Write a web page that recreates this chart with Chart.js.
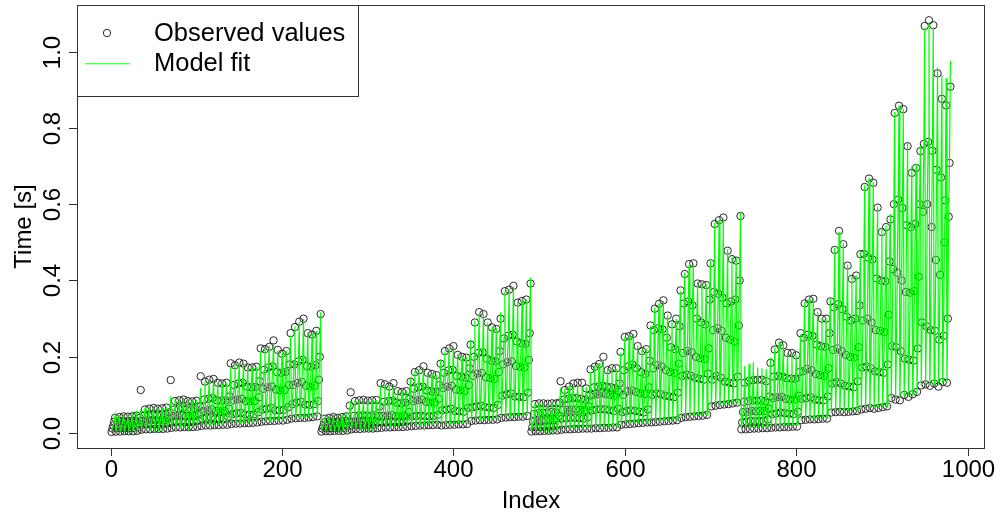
<!DOCTYPE html>
<html>
<head>
<meta charset="utf-8">
<script src="https://cdn.jsdelivr.net/npm/chart.js@4.4.0/dist/chart.umd.min.js"></script>
<style>
  html, body { margin: 0; padding: 0; background: #ffffff; }
  #wrap { width: 1003px; height: 515px; }
</style>
</head>
<body>
<div id="wrap"><canvas id="chart" width="1003" height="515"></canvas></div>
<script>
// Axis ticks
const xTicks = [0, 200, 400, 600, 800, 1000];
const yTicks = [0, 0.2, 0.4, 0.6, 0.8, 1.0];
const yTickLabels = ["0.0", "0.2", "0.4", "0.6", "0.8", "1.0"];

// Measured run times in milliseconds.
// Each block holds 5 levels (rows); each row has 49 settings (7 groups of 7).
// Points are plotted setting by setting, cycling through the 5 levels.
const observedBlock1 = [
  [3,4,4,5,5,5,6, 9,10,10,11,11,11,12, 14,15,15,16,16,16,17, 19,20,20,21,21,22,22, 24,25,25,26,26,27,28, 30,31,32,32,33,33,35, 38,39,40,40,41,42,44],
  [12,13,13,13,13,14,16, 22,23,23,22,22,23,26, 29,30,31,29,29,30,33, 38,40,41,38,38,39,43, 50,52,53,49,48,49,55, 62,64,66,60,60,61,68, 76,80,82,75,74,76,84],
  [20,21,22,21,21,22,26, 32,33,34,33,33,34,38, 44,45,46,44,44,45,50, 58,60,62,58,57,58,64, 86,88,90,84,83,84,94, 116,120,122,114,112,113,126, 126,132,134,124,122,124,140],
  [30,31,32,31,32,33,40, 46,47,48,47,47,48,55, 62,64,65,62,62,63,70, 88,90,92,86,85,86,96, 126,130,132,122,120,121,136, 166,172,175,160,158,160,180, 180,188,192,176,174,178,200],
  [40,42,44,43,44,46,113, 62,64,66,64,65,67,139, 84,86,88,84,83,85,149, 135,140,142,132,130,132,183, 178,185,182,172,172,174,222, 220,226,243,218,208,215,262, 278,292,300,262,258,268,312]
];
const observedBlock2 = [
  [4,5,5,6,6,6,7, 10,11,11,12,12,12,13, 14,15,15,16,16,16,17, 18,19,20,20,21,21,22, 20,21,22,22,23,23,24, 32,33,34,34,35,35,36, 40,41,42,42,43,43,45],
  [12,13,13,13,14,14,18, 20,21,21,21,22,22,28, 28,29,30,29,29,30,34, 44,45,46,44,44,45,48, 60,62,64,58,57,56,66, 68,70,72,68,67,66,74, 98,102,104,96,95,94,106],
  [18,19,20,19,20,21,30, 30,31,32,31,31,32,45, 45,46,47,44,44,45,55, 84,86,88,82,80,80,90, 118,122,124,114,112,110,126, 150,156,158,146,144,142,160, 180,186,188,176,174,172,192],
  [28,30,31,30,31,32,72, 45,46,47,46,46,47,70, 82,84,85,80,78,80,90, 116,120,122,112,110,108,126, 158,164,166,150,148,146,170, 200,210,212,195,190,188,215, 248,255,258,240,236,234,262],
  [38,40,42,40,42,44,107, 84,86,87,85,86,87,131, 128,122,131,110,108,110,135, 160,165,175,158,155,152,182, 215,222,228,205,200,198,232, 290,317,312,290,277,273,300, 372,376,386,342,346,350,392]
];
const observedBlock3 = [
  [4,5,5,6,6,7,7, 9,10,10,11,11,12,12, 12,13,13,14,14,15,15, 22,23,24,25,26,27,28, 28,29,30,31,32,33,34, 40,42,43,44,45,46,48, 70,72,74,75,76,78,80],
  [15,16,16,17,17,18,22, 38,39,40,40,39,38,42, 60,62,63,62,60,58,64, 55,58,60,58,56,54,62, 100,104,102,98,96,94,106, 150,154,150,145,142,140,156, 140,150,145,135,132,130,148],
  [30,31,32,33,34,34,45, 60,61,62,62,61,60,70, 100,102,104,102,100,98,108, 100,110,112,108,104,102,120, 170,178,175,165,160,158,182, 210,215,212,200,196,194,222, 270,275,268,250,245,240,282],
  [50,52,53,54,55,55,80, 88,90,92,92,90,88,98, 120,122,124,122,120,118,130, 165,175,180,170,160,155,190, 270,275,272,250,225,220,280, 340,345,335,300,290,285,350, 370,365,355,340,345,350,400],
  [76,78,78,77,78,78,136, 113,122,130,132,132,117,167, 174,181,200,165,170,170,213, 252,254,260,228,215,220,282, 326,339,348,308,285,300,374, 417,443,445,392,390,388,445, 548,558,565,478,456,452,569]
];
const observedBlock4 = [
  [10,10,11,12,12,13,13, 14,15,15,16,16,17,17, 34,35,36,36,37,38,38, 54,55,56,55,56,57,58, 62,64,66,64,66,68,70, 92,88,86,100,95,102,108, 125,128,124,130,122,134,132],
  [28,30,32,31,32,32,36, 50,52,54,52,51,50,56, 90,92,94,88,86,86,96, 130,134,130,124,122,120,136, 172,175,170,162,160,158,180, 228,225,215,195,192,190,222, 290,280,270,268,245,255,300],
  [55,56,58,57,58,58,64, 92,94,95,90,88,88,98, 162,168,165,155,152,150,170, 218,222,215,205,200,198,225, 295,300,290,270,268,265,310, 430,420,400,370,368,372,410, 580,600,540,454,415,500,567],
  [82,84,86,85,86,84,96, 148,150,148,144,143,142,160, 250,258,255,232,228,226,262, 330,338,325,305,295,300,335, 470,460,455,405,400,398,450, 600,612,590,545,540,548,600, 758,763,740,690,670,610,708],
  [132,137,139,140,140,136,184, 219,237,230,210,210,204,262, 340,350,352,317,300,300,345, 480,530,495,439,404,413,469, 645,667,656,591,527,540,560, 839,858,849,752,682,695,739, 1067,1082,1069,943,876,859,908]
];

// Fitted times from the model, same layout (milliseconds)
const fitBlock1 = [
  [5,5,6,6,6,7,7, 10,10,11,11,11,12,12, 14,15,15,15,16,16,16, 19,20,20,20,21,21,22, 24,25,25,26,26,26,27, 30,31,31,32,32,33,34, 37,38,39,39,40,41,42],
  [13,14,14,13,13,14,17, 22,23,24,22,22,23,27, 29,30,31,29,29,30,34, 39,40,41,38,38,39,44, 50,52,53,49,48,49,57, 62,65,66,61,60,61,70, 77,80,82,75,74,76,86],
  [21,22,23,21,21,22,28, 32,34,35,33,33,34,40, 44,46,47,44,44,45,52, 58,61,62,58,57,58,68, 86,89,90,84,83,84,98, 116,120,122,114,112,113,132, 128,132,135,124,122,124,146],
  [31,32,33,31,31,33,44, 46,48,49,47,47,48,60, 62,64,66,62,61,63,76, 88,91,92,86,85,86,104, 126,130,132,122,120,121,146, 164,170,174,160,158,160,190, 182,188,192,176,174,178,212],
  [46,48,50,46,46,48,62, 66,68,70,66,66,68,96, 88,90,92,86,85,87,118, 136,140,142,132,130,132,170, 180,184,184,174,172,174,214, 222,228,236,216,210,216,256, 280,292,300,264,260,268,316]
];
const fitBlock2 = [
  [6,6,7,7,7,8,8, 11,11,12,12,12,13,13, 15,15,16,16,16,17,17, 19,19,20,20,21,21,22, 22,22,23,23,24,24,25, 32,33,33,34,34,35,36, 40,41,42,42,43,44,45],
  [13,14,14,13,14,14,19, 21,22,22,21,22,22,29, 29,30,31,29,29,30,36, 44,46,47,44,44,45,52, 60,62,63,58,57,56,68, 69,71,72,68,67,66,78, 98,102,104,97,95,94,110],
  [19,20,21,19,20,21,31, 31,32,33,31,31,32,46, 46,47,48,44,44,45,60, 84,87,88,82,80,80,96, 118,122,124,114,112,111,132, 150,156,158,146,144,142,168, 180,186,188,176,174,172,200],
  [30,31,32,30,31,32,60, 46,47,48,46,46,47,72, 82,84,86,80,78,80,98, 116,120,122,112,110,108,134, 158,163,166,150,148,146,180, 202,210,212,195,190,188,226, 250,256,260,240,236,234,274],
  [42,44,45,42,43,45,84, 86,88,89,85,86,87,124, 126,125,128,112,110,111,144, 162,168,172,158,155,153,192, 214,222,226,206,202,200,244, 294,312,312,290,278,275,316, 370,378,384,344,346,350,408]
];
const fitBlock3 = [
  [6,6,7,7,7,8,8, 10,10,11,11,12,12,13, 13,13,14,14,15,15,16, 22,23,24,25,25,26,27, 29,30,30,31,32,33,34, 41,42,43,44,45,46,47, 68,70,72,73,74,76,78],
  [16,17,17,17,17,18,24, 38,39,40,39,38,38,46, 60,62,63,60,59,58,68, 56,58,60,57,56,55,66, 100,103,102,97,96,95,112, 148,152,150,144,142,140,162, 142,148,146,136,133,131,154],
  [31,32,33,32,33,34,48, 60,62,63,61,60,60,74, 100,102,104,100,99,98,114, 102,110,112,106,104,102,126, 170,176,175,164,160,158,190, 210,214,212,200,196,194,232, 268,274,270,250,245,242,292],
  [51,53,54,53,54,55,82, 88,91,92,90,89,88,104, 120,123,124,120,119,118,138, 166,174,178,166,160,156,198, 268,274,272,248,228,222,292, 338,344,338,302,292,288,364, 372,368,358,342,344,350,412],
  [78,80,81,78,79,80,118, 116,124,128,124,122,120,160, 178,184,190,170,168,168,210, 252,256,260,230,220,222,280, 330,340,346,310,292,300,372, 420,440,444,396,392,390,452, 552,560,562,482,462,458,578]
];
const fitBlock4 = [
  [12,12,13,13,14,14,15, 17,17,18,18,19,19,20, 34,35,36,36,37,38,39, 54,55,56,56,57,58,59, 64,65,66,66,67,68,69, 92,92,93,96,96,98,102, 124,126,126,128,126,130,132],
  [32,34,35,33,34,34,40, 52,54,56,52,51,50,60, 90,93,95,88,86,86,100, 130,135,132,124,122,120,140, 172,176,172,162,160,158,186, 226,226,218,198,194,192,228, 288,282,272,266,250,256,306],
  [60,62,64,60,60,61,72, 94,96,98,91,89,88,104, 164,168,168,156,152,150,178, 220,224,218,206,200,198,232, 298,302,292,272,268,266,318, 428,422,402,372,368,372,420, 582,598,545,468,430,500,578],
  [90,92,94,88,88,87,104, 150,152,150,144,143,142,166, 252,258,256,234,228,226,270, 332,338,328,306,296,300,344, 468,462,455,408,400,400,462, 602,612,592,548,540,548,615, 760,765,740,695,675,620,720],
  [176,182,186,172,170,168,198, 224,240,234,210,208,204,258, 344,352,354,318,302,300,352, 486,528,498,442,410,414,476, 650,668,658,594,536,544,574, 842,858,850,760,700,706,752, 1062,1076,1064,958,938,930,975]
];

const observedBlocks = [observedBlock1, observedBlock2, observedBlock3, observedBlock4];
const fitBlocks = [fitBlock1, fitBlock2, fitBlock3, fitBlock4];

// Flatten into run order: block -> setting -> level, index starting at 1
const observedPoints = [];
const fitPoints = [];
let runIndex = 1;
observedBlocks.forEach((block, b) => {
  const fit = fitBlocks[b];
  const settings = block[0].length;
  for (let j = 0; j < settings; j++) {
    for (let k = 0; k < block.length; k++) {
      observedPoints.push({ x: runIndex, y: block[k][j] / 1000 });
      fitPoints.push({ x: runIndex, y: fit[k][j] / 1000 });
      runIndex++;
    }
  }
});

const FONT = '"Liberation Sans", Arial, Helvetica, sans-serif';
const FONT_SIZE = 24;
const LEGEND_FONT_SIZE = 25.5;
const FIT_COLOR = '#00ff00';

// Base-graphics style frame, axes, labels and legend
const framePlugin = {
  id: 'frame',
  beforeDraw(chart) {
    const c = chart.ctx;
    c.save();
    c.fillStyle = '#ffffff';
    c.fillRect(0, 0, chart.width, chart.height);
    c.restore();
  },
  afterDraw(chart) {
    const c = chart.ctx;
    const a = chart.chartArea;
    const xs = chart.scales.x;
    const ys = chart.scales.y;
    c.save();
    c.strokeStyle = '#333333';
    c.lineWidth = 1;
    c.strokeRect(Math.round(a.left) - 0.5, Math.round(a.top) + 0.5,
                 Math.round(a.right - a.left) + 1, Math.round(a.bottom - a.top));

    c.fillStyle = '#000000';
    c.font = FONT_SIZE + 'px ' + FONT;

    // x axis ticks and labels
    c.textAlign = 'center';
    c.textBaseline = 'alphabetic';
    xTicks.forEach(t => {
      const px = Math.round(xs.getPixelForValue(t)) + 0.5;
      c.beginPath();
      c.moveTo(px, a.bottom + 0.5);
      c.lineTo(px, a.bottom + 8);
      c.stroke();
      c.fillText(String(t), px, 477);
    });

    // y axis ticks and rotated labels
    yTicks.forEach((t, i) => {
      const py = Math.round(ys.getPixelForValue(t)) + 0.5;
      c.beginPath();
      c.moveTo(a.left - 0.5, py);
      c.lineTo(a.left - 9, py);
      c.stroke();
      c.save();
      c.translate(60, py);
      c.rotate(-Math.PI / 2);
      c.textAlign = 'center';
      c.textBaseline = 'alphabetic';
      c.fillText(yTickLabels[i], 0, 0);
      c.restore();
    });

    // axis titles
    c.textAlign = 'center';
    c.textBaseline = 'alphabetic';
    c.fillText('Index', (a.left + a.right) / 2, 508);
    c.save();
    c.translate(31, (a.top + a.bottom) / 2);
    c.rotate(-Math.PI / 2);
    c.fillText('Time [s]', 0, 0);
    c.restore();

    // legend box
    const lx = Math.round(a.left) - 0.5, ly = Math.round(a.top) + 0.5;
    c.fillStyle = '#ffffff';
    c.fillRect(lx, ly, 281, 91);
    c.strokeStyle = '#333333';
    c.lineWidth = 1;
    c.strokeRect(lx, ly, 281, 91);
    c.beginPath();
    c.arc(107, 33, 3.7, 0, Math.PI * 2);
    c.strokeStyle = '#2a2a2a';
    c.stroke();
    c.fillStyle = '#55ff55';
    c.fillRect(85, 63, 45, 1.4);
    c.fillStyle = '#000000';
    c.font = LEGEND_FONT_SIZE + 'px ' + FONT;
    c.textAlign = 'left';
    c.textBaseline = 'middle';
    c.fillText('Observed values', 154, 34);
    c.fillText('Model fit', 154, 64);
    c.restore();
  }
};

new Chart(document.getElementById('chart'), {
  type: 'scatter',
  data: {
    datasets: [
      {
        label: 'Model fit',
        data: fitPoints,
        showLine: true,
        borderColor: FIT_COLOR,
        borderWidth: 1.2,
        pointRadius: 0,
        tension: 0,
        order: 0
      },
      {
        label: 'Observed values',
        data: observedPoints,
        showLine: false,
        pointRadius: 3.7,
        pointBorderColor: '#2a2a2a',
        pointBackgroundColor: 'rgba(0,0,0,0)',
        pointBorderWidth: 1,
        order: 1
      }
    ]
  },
  options: {
    responsive: false,
    animation: false,
    events: [],
    layout: { padding: { left: 78, right: 19, top: 3, bottom: 67 } },
    plugins: { legend: { display: false }, tooltip: { enabled: false } },
    scales: {
      x: { type: 'linear', min: -38.2, max: 1019.2, display: false },
      y: { type: 'linear', min: -0.039, max: 1.122, display: false }
    }
  },
  plugins: [framePlugin]
});
</script>
</body>
</html>
